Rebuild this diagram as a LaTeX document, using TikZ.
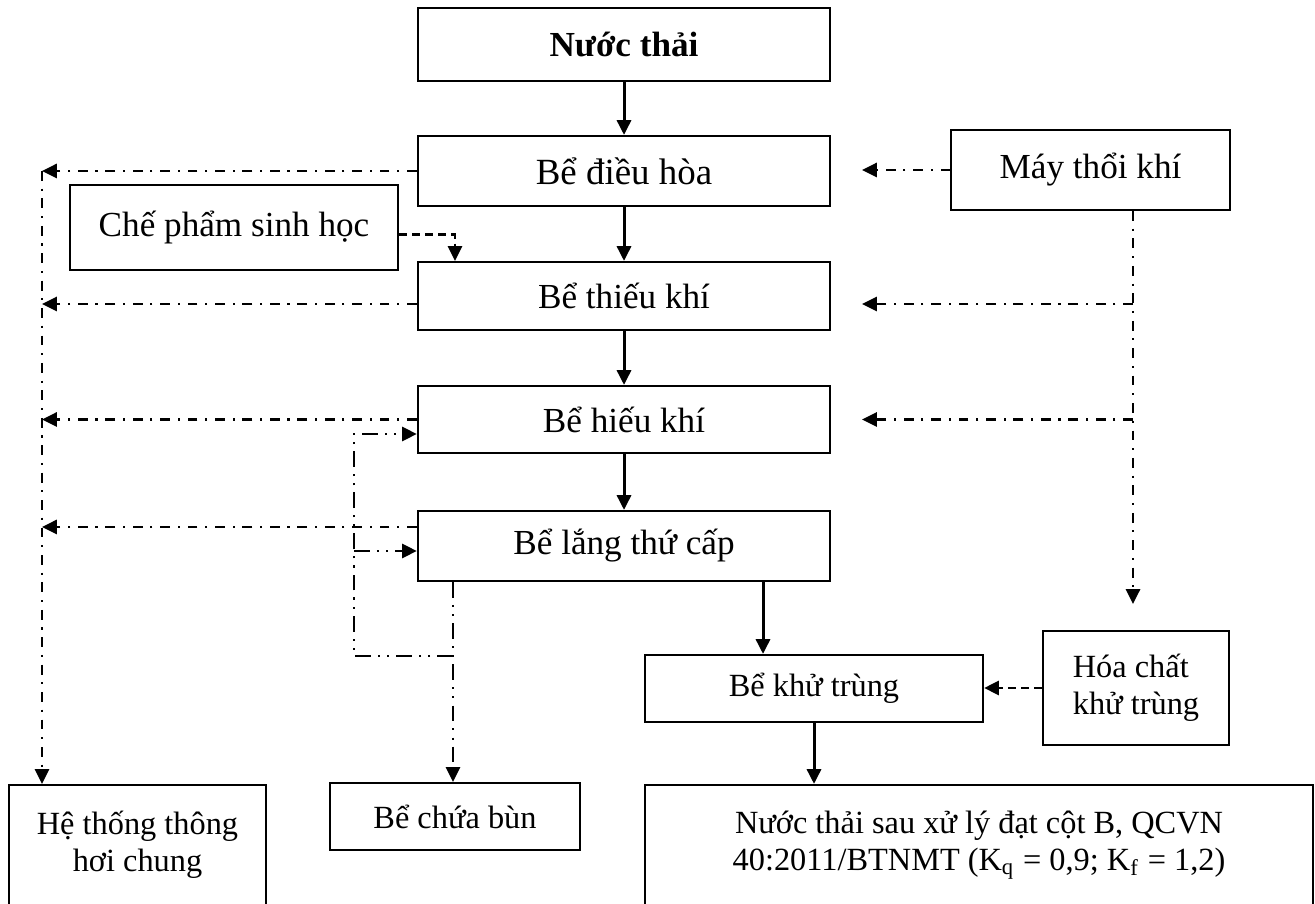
\documentclass[tikz,border=0pt]{standalone}
\usepackage{fontspec}
\setmainfont{Liberation Serif}
\usetikzlibrary{arrows.meta}
\usetikzlibrary{positioning}

\begin{document}
\begin{tikzpicture}[
    x=0.01cm, y=-0.01cm,
    font=\fontsize{10}{10.6}\selectfont
]
\tikzset{
    mybox/.style = {draw=black, line width=0.6pt, inner sep=0pt, align=center},
    myboxs/.style = {mybox, font=\fontsize{9.2}{10.6}\selectfont},
    edgef/.style = {-{Triangle[length=4.2pt,width=4pt]}, line width=0.85pt},
    edgea/.style = {-{Triangle[length=4.2pt,width=4pt]}, line width=0.7pt,
                    dash pattern=on 2.8pt off 2.2pt on 0.6pt off 2.2pt},
    edges/.style = {line width=0.7pt,
                    dash pattern=on 4.5pt off 2pt on 0.6pt off 2pt on 0.6pt off 2pt},
    edged/.style = {-{Triangle[length=4.2pt,width=4pt]}, line width=0.7pt,
                    dash pattern=on 2.3pt off 1.4pt}
}
\useasboundingbox (0,0) rectangle (1315,904);

% process line
\node[mybox, minimum width=4.12cm, minimum height=0.73cm] at (624,44.5) (raw) {\textbf{Nước thải}};
\node[mybox, minimum width=4.12cm, minimum height=0.70cm] at (624,171) (dh) {\fontsize{10.5}{12}\selectfont Bể điều hòa};
\node[mybox, minimum width=4.12cm, minimum height=0.68cm] at (624,296) (tk) {Bể thiếu khí};
\node[mybox, minimum width=4.12cm, minimum height=0.67cm] at (624,419.5) (hk) {Bể hiếu khí};
\node[mybox, minimum width=4.12cm, minimum height=0.70cm] at (624,546) (ltc) {Bể lắng thứ cấp};
\node[myboxs, minimum width=3.38cm, minimum height=0.67cm] at (814,688.5) (kt) {Bể khử trùng};
\node[myboxs, minimum width=6.68cm, minimum height=1.20cm] at (979,845) (out)
    {Nước thải sau xử lý đạt cột B, QCVN\\40:2011/BTNMT (K\textsubscript{q} = 0,9; K\textsubscript{f} = 1,2)};

% side boxes
\node[mybox, minimum width=2.78cm, minimum height=0.80cm] at (1090.5,170) (mtk) {Máy thổi khí};
\node[mybox, minimum width=3.28cm, minimum height=0.85cm] at (234,227.5) (cpsh) {Chế phẩm sinh học};
\node[myboxs, minimum width=1.86cm, minimum height=1.14cm, align=left] at (1136,688) (hc) {Hóa chất\\khử trùng};
\node[myboxs, minimum width=2.57cm, minimum height=1.20cm] at (137.5,845) (ht) {Hệ thống thông\\hơi chung};
\node[myboxs, minimum width=2.50cm, minimum height=0.67cm] at (455,816.5) (bcb) {Bể chứa bùn};

% helper points
\coordinate (vbus) at (42,0);
\coordinate (abus) at (1133,0);
\coordinate (atip) at (862,0);
\coordinate (aend) at (1133,604);
\coordinate (x1) at (763,0);
\coordinate (sx) at (453,0);
\coordinate (dx) at (455,0);
\coordinate (lc) at (354,656);
\coordinate (hkin) at ([yshift=-0.145cm]hk.west);
\coordinate (ltcin) at ([yshift=-0.05cm]ltc.west);

% water flow
\draw[edgef] (raw) -- (dh);
\draw[edgef] (dh) -- (tk);
\draw[edgef] (tk) -- (hk);
\draw[edgef] (hk) -- (ltc);
\draw[edgef] (ltc.south -| x1) -- (kt.north -| x1);
\draw[edgef] (kt.south) -- (out.north -| kt.south);

% air supply
\draw[edgea] (mtk.west) -- (mtk.west -| atip);
\draw[edgea] (mtk.south -| abus) -- (aend);
\draw[edgea] ([yshift=-0.08cm]tk.east -| abus) -- ([yshift=-0.08cm]tk.east -| atip);
\draw[edgea] (hk.east -| abus) -- (hk.east -| atip);

% off-gas
\draw[edgea] (dh.west) -- (dh.west -| vbus);
\draw[edgea] ([yshift=-0.08cm]tk.west) -- ([yshift=-0.08cm]tk.west -| vbus);
\draw[edgea] (hk.west) -- (hk.west -| vbus);
\draw[edgea] ([yshift=0.19cm]ltc.west) -- ([yshift=0.19cm]ltc.west -| vbus);
\draw[edgea] (dh.west -| vbus) -- (ht.north -| vbus);

% dosing
\draw[edged] ([yshift=-0.07cm]cpsh.east) -| (tk.north -| dx);
\draw[edged] (hc.west) -- (hc.west -| kt.east);

% sludge and return
\draw[edges, -{Triangle[length=4.2pt,width=4pt]}] (ltc.south -| sx) -- (bcb.north -| sx);
\draw[edges, -{Triangle[length=4.2pt,width=4pt]}] (lc -| sx) -- (lc) -- (lc |- hkin) -- (hkin);
\draw[edges, -{Triangle[length=4.2pt,width=4pt]}] (lc |- ltcin) -- (ltcin);
\end{tikzpicture}
\end{document}
